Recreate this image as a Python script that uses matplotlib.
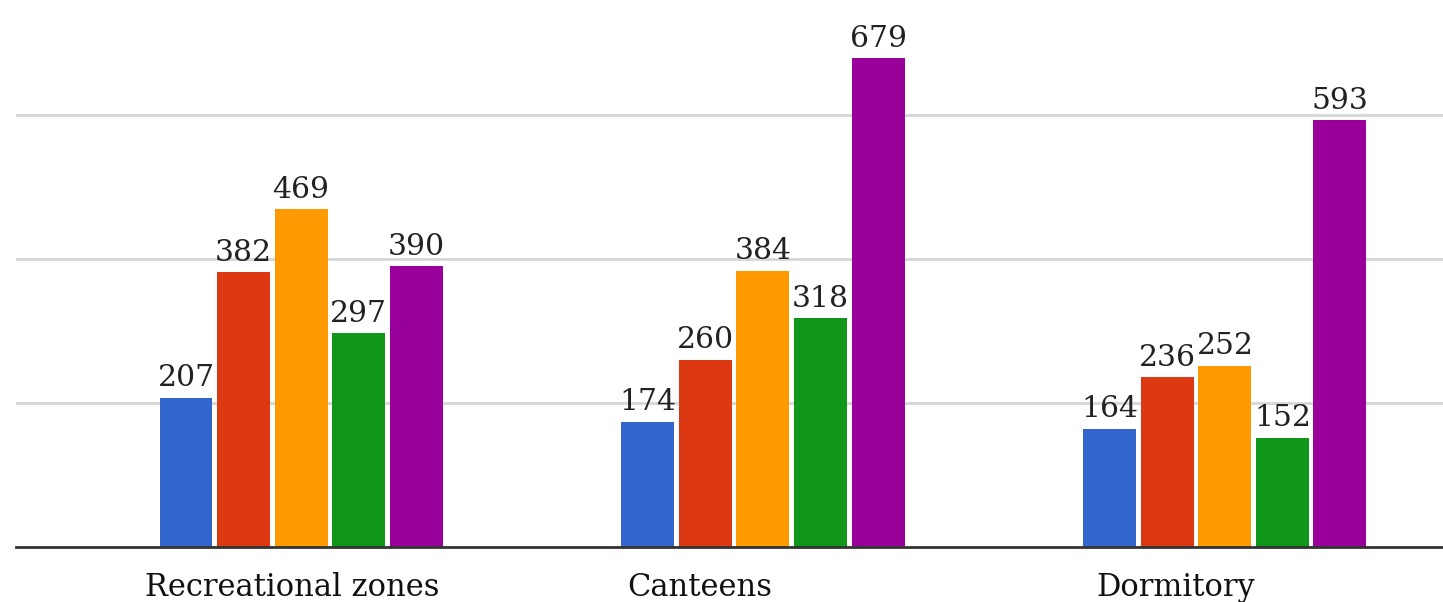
import numpy as np
import matplotlib
matplotlib.use("Agg")
import matplotlib.pyplot as plt

categories = ["Recreational zones", "Canteens", "Dormitory"]
series = [
    [207, 174, 164],   # blue
    [382, 260, 236],   # red
    [469, 384, 252],   # orange
    [297, 318, 152],   # green
    [390, 679, 593],   # purple
]
colors = ["#3366cc", "#dc3912", "#ff9900", "#109618", "#990099"]
# category labels are not centred on the groups in the original
label_offsets = [-0.02, -0.136, -0.106]

plt.rcParams["font.family"] = ["DejaVu Serif"]

fig = plt.figure(figsize=(14.43, 6.02), dpi=100)
ax = fig.add_axes([16 / 1443, 1 - 547 / 602, 1 - 16 / 1443, 547 / 602])

x = np.arange(len(categories))
width = 0.1147
pitch = 0.1245
for i, (vals, c) in enumerate(zip(series, colors)):
    pos = x + (i - 2) * pitch
    ax.bar(pos, vals, width=width, color=c, zorder=3)
    for p, v in zip(pos, vals):
        ax.annotate(str(v), (p, v), xytext=(0, 4), textcoords="offset points",
                    ha="center", va="bottom", fontsize=21.5, color="#222222", zorder=4)

for xi, off, name in zip(x, label_offsets, categories):
    ax.text(xi + off, -0.045, name, transform=ax.get_xaxis_transform(),
            ha="center", va="top", fontsize=22, color="#111111")

ax.set_xlim(-0.617, 2.472)
ax.set_ylim(0, 760)
ax.set_yticks([200, 400, 600])
ax.yaxis.grid(True, color="#d6d6d6", linewidth=2, zorder=0)
ax.tick_params(left=False, bottom=False, labelleft=False, labelbottom=False)
for s in ["top", "right", "left"]:
    ax.spines[s].set_visible(False)
ax.spines["bottom"].set_color("#333333")
ax.spines["bottom"].set_linewidth(2)
ax.spines["bottom"].set_zorder(5)

fig.savefig("out.png", dpi=100)
